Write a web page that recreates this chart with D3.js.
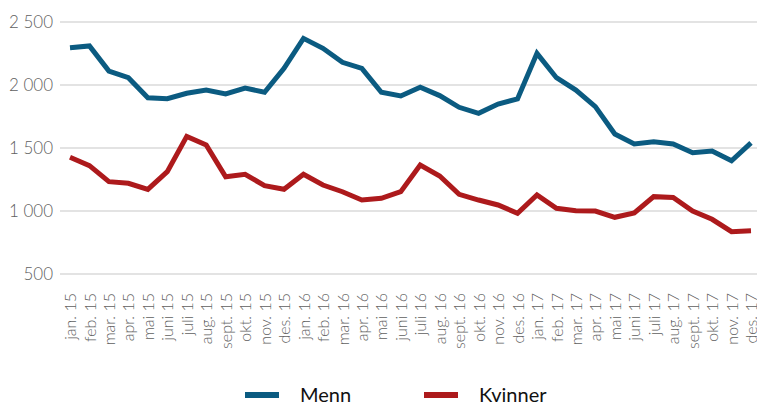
<!DOCTYPE html>
<html>
<head>
<meta charset="utf-8">
<title></title>
<script src="https://cdn.jsdelivr.net/npm/d3@7"></script>
<style>
  body { margin: 0; background: #fff; }
  svg text { font-family: Lato, "Open Sans", sans-serif; }
</style>
</head>
<body>
<div id="chart"></div>
<script>
  // months, jan. 15 .. des. 17
  var months = ["jan. 15","feb. 15","mar. 15","apr. 15","mai 15","juni 15","juli 15","aug. 15","sept. 15","okt. 15","nov. 15","des. 15",
                "jan. 16","feb. 16","mar. 16","apr. 16","mai 16","juni 16","juli 16","aug. 16","sept. 16","okt. 16","nov. 16","des. 16",
                "jan. 17","feb. 17","mar. 17","apr. 17","mai 17","juni 17","juli 17","aug. 17","sept. 17","okt. 17","nov. 17","des. 17"];

  var menn = [2296,2310,2111,2058,1899,1891,1934,1960,1929,1976,1942,2132,
              2370,2291,2180,2132,1942,1913,1982,1916,1823,1775,1849,1889,
              2251,2058,1960,1828,1611,1532,1550,1532,1463,1476,1399,1540];

  var kvinner = [1426,1360,1233,1220,1172,1312,1592,1524,1272,1291,1201,1172,
                 1291,1206,1153,1087,1101,1153,1365,1278,1132,1087,1048,982,
                 1127,1021,1002,1000,950,985,1114,1108,1000,934,836,844];

  var yTicks = [500, 1000, 1500, 2000, 2500];

  var series = [
    {name: "Menn", values: menn, color: "#0b5b81"},
    {name: "Kvinner", values: kvinner, color: "#ad1a1c"}
  ];

  var width = 757, height = 403;

  var svg = d3.select('#chart').append('svg')
    .attr('width', width).attr('height', height);

  var x = d3.scalePoint().domain(months).range([70, 751]);
  var y = d3.scaleLinear().domain([500, 2500]).range([274, 22]);

  // grid + y labels
  var yAxis = d3.axisLeft(y).tickValues(yTicks).tickSize(0).tickPadding(0)
    .tickFormat(function(d) { return d3.format(",")(d).replace(",", "\u00a0"); });

  var gy = svg.append('g').attr('transform', 'translate(53,0)').call(yAxis);
  gy.select('.domain').remove();
  gy.selectAll('text')
    .attr('x', 0)
    .attr('fill', '#5f5f5f')
    .style('font-size', '17px')
    .style('font-weight', 300)
    .style('text-anchor', 'end');

  svg.append('g').selectAll('line').data(yTicks).enter().append('line')
    .attr('x1', 60).attr('x2', width)
    .attr('y1', function(d) { return y(d); })
    .attr('y2', function(d) { return y(d); })
    .attr('stroke', '#dadada').attr('stroke-width', 1.5);

  // x labels, rotated
  var xAxis = d3.axisBottom(x).tickSize(0).tickPadding(0);
  var gx = svg.append('g').attr('transform', 'translate(0,293)').call(xAxis);
  gx.select('.domain').remove();
  gx.selectAll('text')
    .attr('transform', 'rotate(-90)')
    .attr('x', 0).attr('y', 0).attr('dy', '0.35em')
    .attr('fill', '#5f5f5f')
    .style('font-size', '16px')
    .style('font-weight', 300)
    .style('text-anchor', 'end');

  // lines
  var line = d3.line()
    .x(function(d, i) { return x(months[i]); })
    .y(function(d) { return y(d); });

  svg.selectAll('.series').data(series).enter().append('path')
    .attr('class', 'series')
    .attr('d', function(s) { return line(s.values); })
    .attr('fill', 'none')
    .attr('stroke', function(s) { return s.color; })
    .attr('stroke-width', 5)
    .attr('stroke-linejoin', 'miter');

  // legend
  var legendX = [245, 424];
  var lg = svg.selectAll('.legend').data(series).enter().append('g')
    .attr('class', 'legend')
    .attr('transform', function(s, i) { return 'translate(' + legendX[i] + ',395)'; });
  lg.append('line')
    .attr('x1', 0).attr('x2', 34).attr('y1', 0).attr('y2', 0)
    .attr('stroke', function(s) { return s.color; })
    .attr('stroke-width', 6);
  lg.append('text')
    .attr('x', 55).attr('y', 7)
    .attr('fill', '#111')
    .style('font-size', '20px')
    .text(function(s) { return s.name; });
</script>
</body>
</html>
